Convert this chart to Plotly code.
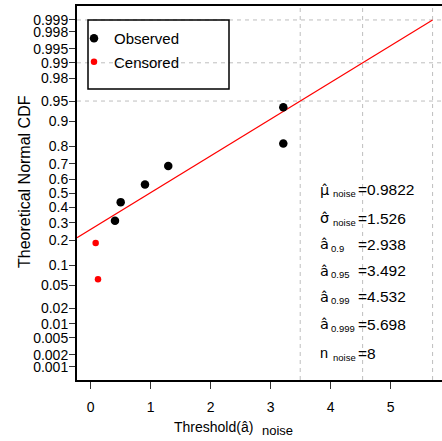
import plotly.graph_objects as go
from statistics import NormalDist

# ---------------- data ----------------
obs_x = [0.405, 0.50, 0.905, 1.293, 3.21, 3.21]
obs_p = [0.3125, 0.4375, 0.5625, 0.6875, 0.8125, 0.9375]
cen_x = [0.122, 0.083]
cen_p = [0.0625, 0.1875]

mu_hat = 0.9822
sigma_hat = 1.526
a_levels = ["0.9", "0.95", "0.99", "0.999"]
a_values = [2.938, 3.492, 4.532, 5.698]
n_noise = 8

prob_ticks = [0.001, 0.002, 0.005, 0.01, 0.02, 0.05, 0.1, 0.2, 0.3, 0.4, 0.5,
              0.6, 0.7, 0.8, 0.9, 0.95, 0.98, 0.99, 0.995, 0.998, 0.999]
prob_tick_labels = ["0.001", "0.002", "0.005", "0.01", "0.02", "0.05", "0.1",
                    "0.2", "0.3", "0.4", "0.5", "0.6", "0.7", "0.8", "0.9",
                    "0.95", "0.98", "0.99", "0.995", "0.998", "0.999"]
x_ticks = [0, 1, 2, 3, 4, 5]
grid_probs = [0.95, 0.99, 0.999]
grid_a = [3.492, 4.532, 5.698]

stat_base = ["μ\u0302", "σ\u0302", "a\u0302", "a\u0302", "a\u0302", "a\u0302", "n"]
stat_sub = ["noise", "noise", "0.9", "0.95", "0.99", "0.999", "noise"]
stat_val = ["0.9822", "1.526", "2.938", "3.492", "4.532", "5.698", str(n_noise)]

# ---------------- layout constants ----------------
W, H = 442, 441
PL, PR, PT, PB = 77, 442, 6, 380
FONT = "Liberation Sans, Arial, Helvetica, sans-serif"
FONT_HAT = "DejaVu Sans, Liberation Sans, sans-serif"
x_range = [-0.228, 5.855]
y_range = [-3.328, 3.339]

nd = NormalDist()
z = nd.inv_cdf


def px(xp):
    return (xp - PL) / (PR - PL)


def py(yp):
    return (PB - yp) / (PB - PT)


fig = go.Figure()

# fitted normal line (from left edge of axis to a_0.999)
line_x = [x_range[0], a_values[-1]]
line_z = [(v - mu_hat) / sigma_hat for v in line_x]
fig.add_trace(go.Scatter(x=line_x, y=line_z, mode="lines",
                         line=dict(color="#FF0000", width=1.2),
                         showlegend=False, hoverinfo="skip"))

fig.add_trace(go.Scatter(x=obs_x, y=[z(p) for p in obs_p], mode="markers",
                         name="Observed", legendgroup="o",
                         marker=dict(color="black", size=8.5)))
fig.add_trace(go.Scatter(x=cen_x, y=[z(p) for p in cen_p], mode="markers",
                         name="Censored", legendgroup="c",
                         marker=dict(color="#FF0000", size=6.5)))

shapes = []
for g in grid_a:
    shapes.append(dict(type="line", xref="x", yref="paper", x0=g, x1=g, y0=0, y1=1,
                       line=dict(color="#BEBEBE", width=1, dash="4px,4px"), layer="below"))
for gp in grid_probs:
    shapes.append(dict(type="line", xref="paper", yref="y", x0=0, x1=1, y0=z(gp), y1=z(gp),
                       line=dict(color="#BEBEBE", width=1, dash="4px,4px"), layer="below"))
# legend box
shapes.append(dict(type="rect", xref="paper", yref="paper",
                   x0=px(88), x1=px(229), y0=py(89), y1=py(20),
                   line=dict(color="black", width=1.5)))

ann = []
val_y = [189.5, 218.3, 244.2, 270.8, 296.7, 324.0, 353.3]
for i in range(len(stat_base)):
    yc = val_y[i]
    fam = FONT_HAT if "\u0302" in stat_base[i] else FONT
    ann.append(dict(text=stat_base[i], x=px(319), y=py(yc), xanchor="left", yanchor="middle",
                    font=dict(size=14.5, family=fam)))
    sub_x = 332 if stat_sub[i] == "noise" else 330
    ann.append(dict(text=stat_sub[i], x=px(sub_x), y=py(yc + 4), xanchor="left", yanchor="middle",
                    font=dict(size=9.5, family=FONT)))
    ann.append(dict(text="=" + stat_val[i], x=px(357), y=py(yc), xanchor="left", yanchor="middle",
                    font=dict(size=15.5, family=FONT)))

# axis titles
ann.append(dict(text="Threshold(\u00e2)", x=px(173), y=py(427), xanchor="left", yanchor="middle",
                font=dict(size=14, family=FONT)))
ann.append(dict(text="noise", x=px(261), y=py(430.4), xanchor="left", yanchor="middle",
                font=dict(size=13, family=FONT)))
ann.append(dict(text="Theoretical Normal CDF", x=px(24), y=py(182), xanchor="center",
                yanchor="middle", textangle=-90, font=dict(size=16, family=FONT)))

for a in ann:
    a.update(xref="paper", yref="paper", showarrow=False, borderpad=0)
    a["font"].update(color="black")

fig.update_layout(
    width=W, height=H,
    margin=dict(l=PL, r=W - PR, t=PT, b=H - PB, pad=0),
    paper_bgcolor="white", plot_bgcolor="white",
    font=dict(family=FONT, color="black", size=14),
    shapes=shapes, annotations=ann,
    showlegend=True,
    legend=dict(x=px(74), y=py(22), xanchor="left", yanchor="top",
                bgcolor="rgba(0,0,0,0)", borderwidth=0, tracegroupgap=1,
                font=dict(size=15, family=FONT, color="black")),
    xaxis=dict(range=x_range, tickvals=x_ticks, ticks="outside", ticklen=7,
               tickcolor="#333", tickwidth=1, showgrid=False, zeroline=False,
               showline=True, linecolor="black", linewidth=2, mirror=True,
               ticklabelstandoff=6, tickfont=dict(size=14)),
    yaxis=dict(range=y_range, tickvals=[z(p) for p in prob_ticks], ticktext=prob_tick_labels,
               ticks="outside", ticklen=6, tickcolor="#333", tickwidth=1,
               showgrid=False, zeroline=False, showline=True, linecolor="black",
               linewidth=2, ticklabelstandoff=-2, tickfont=dict(size=14)),
)

fig.write_html("out.html", config={"displayModeBar": False},
               post_script="document.body.style.margin='0px';document.body.style.overflow='hidden';")
